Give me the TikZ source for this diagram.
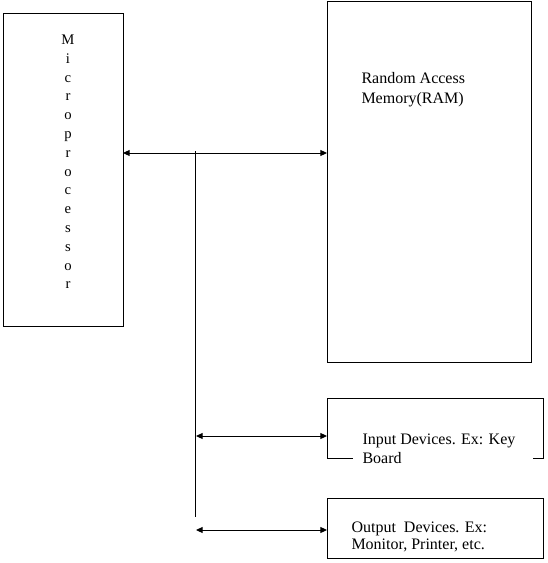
\documentclass[tikz,border=0pt]{standalone}
\usepackage{fontspec}
\setmainfont{Liberation Serif}
\usetikzlibrary{arrows.meta}
\begin{document}
\begin{tikzpicture}[x=0.75pt,y=-0.75pt,line width=0.75pt,
            box/.style = {draw, rectangle,
                        inner sep=0pt, outer sep=0pt},
            bus/.style = {<->, >={Triangle[length=5pt,width=4.5pt]}},
            txt/.style = {anchor=base west, inner sep=0pt,
                        font=\fontsize{12}{14}\selectfont}]
            \useasboundingbox (0,0) rectangle (547,563);
            % Microprocessor
            \node[box, minimum width=90pt, minimum height=234pt] (mp) at (63,170) {};
            \foreach \ch [count=\i from 0] in {M,i,c,r,o,p,r,o,c,e,s,s,o,r}
                \node[anchor=base, inner sep=0pt, font=\fontsize{11}{13}\selectfont] (mp\i) at (68,{44.5+18.8*\i}) {\ch};
            % RAM
            \node[box, minimum width=153pt, minimum height=270pt] (ram) at (429,182) {};
            \node[txt] (ram1) at (361,84) {Random Access};
            \node[txt] (ram2) at (361,104) {Memory(RAM)};
            % Input devices
            \node[box, minimum width=162pt, minimum height=45pt] (inp) at (435,428) {};
            \node[txt] (inp1) at (362,444) {Input Devices. Ex: Key};
            \node[txt, fill=white, inner xsep=7.5pt, inner ysep=1pt, text width=120pt] (inp2) at (352,463) {Board};
            % Output devices
            \node[box, minimum width=162pt, minimum height=45pt] (outp) at (435,528) {};
            \node[txt] (outp1) at (351,532.5) {Output\ \ Devices. Ex:};
            \node[txt] (outp2) at (351,549) {Monitor, Printer, etc.};
            % Bus lines
            \coordinate (bt) at (195.5,151);
            \coordinate (bb) at (195.5,517);
            \draw (bt) -- (bb);
            \coordinate (b1) at (195.5,153);
            \draw[bus] (mp.east |- b1) -- (ram.west |- b1);
            \coordinate (b2) at (196,436);
            \draw[bus] (b2) -- (b2 -| inp.west);
            \coordinate (b3) at (196,530);
            \draw[bus] (b3) -- (b3 -| outp.west);
        \end{tikzpicture}
\end{document}
